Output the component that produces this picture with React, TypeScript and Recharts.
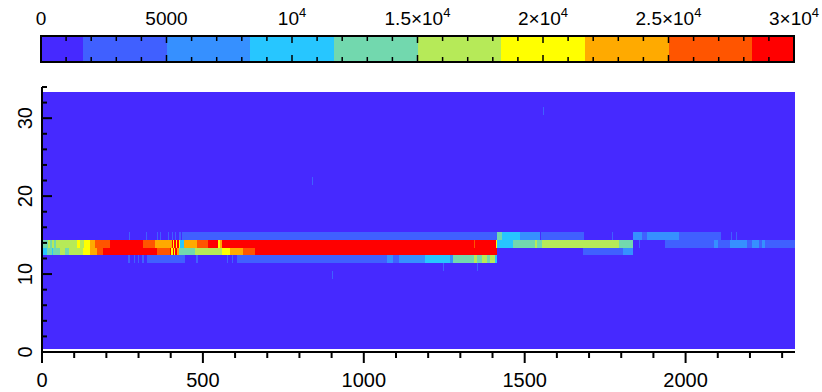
import React from 'react';
import { ComposedChart, XAxis, YAxis, ReferenceArea } from 'recharts';

// colour levels (0 .. 3e4 in 10 steps)
const LEVEL_COLORS = [
  '#4629FF', // 0
  '#4060FF',
  '#3690FF',
  '#27C6FF',
  '#72D8AE',
  '#B6EA58',
  '#FFFF00',
  '#FFAA00',
  '#FF5500',
  '#FF0000', // 3e4
];
const CBAR_EDGES = [0, 1667, 5000, 8333, 11667, 15000, 18333, 21667, 25000, 28333, 30000];
const CBAR_MINOR = Array.from({ length: 31 }, (_, i) => i * 1000);

const X_MAX = 2340;
const Y_MAX = 34;
const ROW_FIRST = 1;
const ROW_LAST = 33;
const X_TICKS = Array.from({ length: 24 }, (_, i) => i * 100);
const Y_TICKS = Array.from({ length: 18 }, (_, i) => i * 2);

// cells per row: [xStart, xEnd, level]; everything else is level 0
const ROW_2 = [[620, 623, 1]];
const ROW_10 = [[900, 903, 1]];
const ROW_11 = [[1247, 1250, 1], [1352, 1355, 1]];
const ROW_12 = [
  [268, 272, 1], [285, 289, 1], [298, 302, 1], [312, 316, 1], [325, 445, 1],
  [480, 484, 1], [574, 578, 1], [590, 594, 1], [605, 1071, 1],
  [1071, 1092, 2], [1092, 1108, 1], [1108, 1191, 2], [1191, 1268, 3], [1268, 1278, 2],
  [1278, 1341, 4], [1341, 1351, 5], [1351, 1367, 4], [1367, 1382, 5], [1382, 1393, 4],
  [1393, 1408, 5], [1408, 1415, 3],
];
const ROW_13 = [
  [0, 14, 3], [14, 30, 4], [30, 34, 3], [34, 56, 4], [56, 70, 5], [70, 85, 4], [85, 128, 5],
  [128, 149, 6], [149, 170, 7], [170, 191, 8], [191, 356, 9], [356, 398, 8],
  [398, 402, 9], [402, 406, 6], [406, 410, 9], [410, 414, 6], [414, 420, 9], [420, 426, 7],
  [426, 476, 4], [476, 559, 5], [559, 584, 6], [584, 626, 7], [626, 662, 8], [662, 1415, 9],
  [1681, 1807, 1], [1807, 1838, 2],
];
const ROW_14 = [
  [0, 20, 4], [20, 24, 5], [24, 30, 4], [30, 36, 5], [36, 42, 4], [42, 108, 5],
  [108, 118, 6], [118, 129, 5], [129, 149, 6], [149, 165, 7], [165, 211, 8], [211, 315, 9],
  [315, 351, 8], [351, 403, 7], [403, 407, 9], [407, 411, 6], [411, 416, 9], [416, 420, 6],
  [420, 425, 9], [425, 429, 6], [429, 440, 3], [440, 481, 7], [481, 517, 8], [517, 548, 9],
  [548, 552, 6], [552, 559, 7], [559, 1343, 9], [1343, 1347, 8], [1347, 1410, 9],
  [1410, 1415, 6], [1415, 1465, 3], [1465, 1533, 4], [1533, 1537, 5], [1537, 1553, 4],
  [1553, 1792, 5], [1792, 1838, 4], [1855, 1858, 1], [1935, 1938, 1],
  [1938, 2087, 1], [2087, 2102, 2], [2102, 2139, 1], [2139, 2190, 2], [2190, 2206, 1],
  [2206, 2227, 2], [2227, 2237, 1], [2237, 2247, 2], [2247, 2340, 1],
];
const ROW_15 = [
  [271, 274, 1], [323, 326, 1], [357, 360, 1], [367, 370, 1], [391, 396, 1], [403, 406, 1],
  [413, 416, 1], [427, 431, 1], [434, 1415, 1],
  [1415, 1431, 4], [1431, 1486, 3], [1486, 1548, 2], [1552, 1685, 1], [1770, 1773, 1],
  [1837, 1865, 2], [1865, 1880, 1], [1880, 1980, 2], [1980, 2005, 1], [2005, 2110, 1],
  [2140, 2144, 1], [2157, 2161, 1],
];
const ROW_22 = [[838, 841, 1]];
const ROW_31 = [[1557, 1560, 1]];

const ROWS = [
  { row: 2, cells: ROW_2 },
  { row: 10, cells: ROW_10 },
  { row: 11, cells: ROW_11 },
  { row: 12, cells: ROW_12 },
  { row: 13, cells: ROW_13 },
  { row: 14, cells: ROW_14 },
  { row: 15, cells: ROW_15 },
  { row: 22, cells: ROW_22 },
  { row: 31, cells: ROW_31 },
];

const FONT = '"Liberation Sans", Arial, Helvetica, sans-serif';

const cellShape = (p: any) => (
  <rect x={p.x} y={p.y} width={p.width} height={p.height} fill={p.fill} shapeRendering="crispEdges" />
);

const XTick = (props: any) => {
  const { x, y, payload } = props;
  const major = payload.value % 500 === 0;
  return (
    <g>
      <line x1={x} x2={x} y1={y} y2={y + (major ? 11 : 6)} stroke="#000" strokeWidth={2} />
      {major && (
        <text x={x} y={y + 35} textAnchor="middle" fontSize={20} fontFamily={FONT} fill="#000">
          {payload.value}
        </text>
      )}
    </g>
  );
};

const YTick = (props: any) => {
  const { x, y, payload } = props;
  const major = payload.value % 10 === 0;
  return (
    <g>
      <line x1={x} x2={x + (major ? 10 : 5)} y1={y} y2={y} stroke="#000" strokeWidth={2} />
      {major && (
        <text transform={`translate(${x - 10},${y}) rotate(-90)`} textAnchor="middle" fontSize={20} fontFamily={FONT} fill="#000">
          {payload.value}
        </text>
      )}
    </g>
  );
};

const cbarLabel = (v: number) => {
  if (v < 10000) return [String(v), ''];
  const m = v / 10000;
  return [m === 1 ? '10' : `${m}\u00d710`, '4'];
};

// top edge of the colour bar: inward ticks on both edges + labels every 5000
const CbarTopTick = (props: any) => {
  const { x, y, payload } = props;
  const v = payload.value;
  const major = v % 5000 === 0;
  const [base, sup] = cbarLabel(v);
  return (
    <g>
      <line x1={x} x2={x} y1={y} y2={y + (major ? 7 : 5)} stroke="#000" strokeWidth={1.5} />
      <line x1={x} x2={x} y1={y + 26} y2={y + 26 - (major ? 7 : 5)} stroke="#000" strokeWidth={1.5} />
      {major && (
        <text x={x} y={y - 11} textAnchor="middle" fontSize={19} fontFamily={FONT} fill="#000">
          {base}
          {sup && <tspan fontSize={13} dy={-8}>{sup}</tspan>}
        </text>
      )}
    </g>
  );
};

const ColorBar = () => (
  <ComposedChart width={822} height={70} data={[{ v: 0, y: 0.5 }]} margin={{ top: 6, right: 28, bottom: 8, left: 11 }}>
    <XAxis
      type="number"
      dataKey="v"
      orientation="top"
      height={30}
      domain={[0, 30000]}
      ticks={CBAR_MINOR}
      interval={0}
      tick={<CbarTopTick />}
      tickLine={false}
      axisLine={false}
      tickSize={0}
      tickMargin={0}
      allowDataOverflow
    />
    <YAxis type="number" dataKey="y" domain={[0, 1]} width={30} tick={false} tickLine={false} axisLine={false} allowDataOverflow />
    {LEVEL_COLORS.map((c, i) => (
      <ReferenceArea
        key={i}
        x1={CBAR_EDGES[i]}
        x2={CBAR_EDGES[i + 1]}
        y1={0}
        y2={1}
        fill={c}
        fillOpacity={1}
        ifOverflow="visible"
        shape={cellShape}
      />
    ))}
    <ReferenceArea x1={0} x2={30000} y1={0} y2={1} fill="none" stroke="#000" strokeWidth={2} ifOverflow="visible" />
  </ComposedChart>
);

const HeatMap = () => (
  <ComposedChart width={822} height={392} data={[{ x: 0 }]} margin={{ top: 87, right: 27, bottom: 10, left: 2 }}>
    <XAxis
      type="number"
      dataKey="x"
      domain={[0, X_MAX]}
      ticks={X_TICKS}
      interval={0}
      height={30}
      tick={<XTick />}
      tickLine={false}
      tickSize={0}
      tickMargin={0}
      axisLine={{ stroke: '#000', strokeWidth: 2 }}
      allowDataOverflow
    />
    <YAxis
      type="number"
      domain={[0, Y_MAX]}
      ticks={Y_TICKS}
      interval={0}
      width={40}
      tick={<YTick />}
      tickLine={false}
      tickSize={0}
      tickMargin={0}
      axisLine={{ stroke: '#000', strokeWidth: 2 }}
      allowDataOverflow
    />
    <ReferenceArea
      x1={0}
      x2={X_MAX}
      y1={ROW_FIRST - 0.6}
      y2={ROW_LAST + 0.4}
      fill={LEVEL_COLORS[0]}
      fillOpacity={1}
      shape={cellShape}
    />
    {ROWS.map(({ row, cells }) =>
      cells.map(([a, b, lvl], i) => (
        <ReferenceArea
          key={`${row}-${i}`}
          x1={a}
          x2={b}
          y1={row - 0.6}
          y2={row + 0.4}
          fill={LEVEL_COLORS[lvl]}
          fillOpacity={1}
          shape={cellShape}
        />
      ))
    )}
  </ComposedChart>
);

export default function App() {
  return (
    <div style={{ position: 'absolute', left: 0, top: 0, width: 822, height: 392, background: '#fff' }}>
      <div style={{ position: 'absolute', left: 0, top: 0 }}>
        <HeatMap />
      </div>
      <div style={{ position: 'absolute', left: 0, top: 0 }}>
        <ColorBar />
      </div>
    </div>
  );
}
